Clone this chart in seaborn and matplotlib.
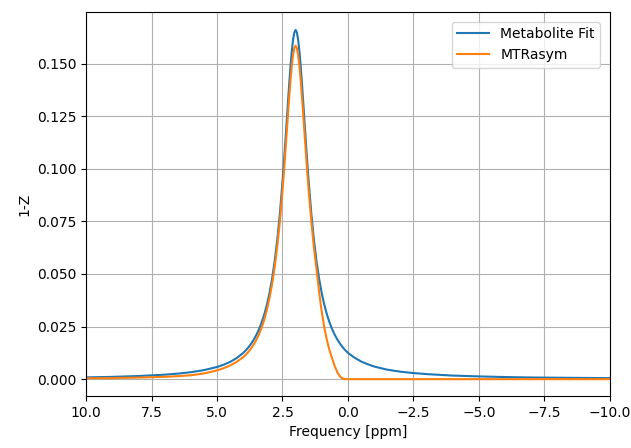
import matplotlib
matplotlib.use("Agg")
import matplotlib.pyplot as plt
import seaborn as sns
import pandas as pd

# Frequency offsets (ppm)
freq = [10, 9, 8, 7, 6.5, 6, 5.5, 5,
        4.75, 4.5, 4.25, 4,
        3.9, 3.8, 3.7, 3.6, 3.5, 3.4, 3.3, 3.2, 3.1, 3.0,
        2.9, 2.8, 2.7, 2.6, 2.5,
        2.45, 2.4, 2.35, 2.3, 2.25, 2.2, 2.15, 2.1, 2.05, 2.0,
        1.95, 1.9, 1.85, 1.8, 1.75, 1.7, 1.65, 1.6, 1.55, 1.5,
        1.4, 1.3, 1.2, 1.1, 1.0,
        0.9, 0.8, 0.7, 0.6, 0.5, 0.4, 0.3, 0.2, 0.15, 0.1,
        0.0,
        -0.25, -0.5, -0.75, -1,
        -1.5, -2, -2.5, -3,
        -4, -5, -6, -7, -8, -9, -10]

metabolite_fit = [0.00084, 0.00109, 0.00148, 0.00213, 0.00262, 0.00330, 0.00429, 0.00578,
                  0.00684, 0.00820, 0.01001, 0.01247,
                  0.01371, 0.01513, 0.01678, 0.01870, 0.02095, 0.02360, 0.02677, 0.03056, 0.03514, 0.04071,
                  0.04752, 0.05589, 0.06619, 0.07875, 0.09382,
                  0.10226, 0.11122, 0.12055, 0.13000, 0.13922, 0.14780, 0.15525, 0.16104, 0.16473, 0.16600,
                  0.16473, 0.16104, 0.15525, 0.14780, 0.13922, 0.13000, 0.12055, 0.11122, 0.10226, 0.09382,
                  0.07875, 0.06619, 0.05589, 0.04752, 0.04071,
                  0.03514, 0.03056, 0.02677, 0.02360, 0.02095, 0.01870, 0.01678, 0.01513, 0.01440, 0.01371,
                  0.01247,
                  0.01020, 0.00840, 0.00710, 0.00600,
                  0.00450, 0.00355, 0.00290, 0.00240,
                  0.00170, 0.00130, 0.00100, 0.00080, 0.00068, 0.00058, 0.00050]

mtr_asym = [0.00040, 0.00052, 0.00074, 0.00111, 0.00141, 0.00185, 0.00270, 0.00416,
            0.00520, 0.00648, 0.00821, 0.01047,
            0.01165, 0.01301, 0.01460, 0.01646, 0.01865, 0.02124, 0.02436, 0.02812, 0.03268, 0.03827,
            0.04491, 0.05310, 0.06301, 0.07505, 0.08950,
            0.09756, 0.10622, 0.11513, 0.12415, 0.13296, 0.14115, 0.14826, 0.15379, 0.15732, 0.15850,
            0.15732, 0.15379, 0.14826, 0.14115, 0.13296, 0.12415, 0.11513, 0.10622, 0.09756, 0.08950,
            0.07505, 0.06250, 0.05200, 0.04120, 0.03180,
            0.02430, 0.01830, 0.01350, 0.00960, 0.00600, 0.00310, 0.00120, 0.00030, 0.00010, 0.0,
            0.0,
            0.0, 0.0, 0.0, 0.0,
            0.0, 0.0, 0.0, 0.0,
            0.0, 0.0, 0.0, 0.0, 0.0, 0.0, 0.0]

series_names = ["Metabolite Fit", "MTRasym"]

df = pd.DataFrame({"freq": freq, "fit": metabolite_fit, "mtr": mtr_asym})

plt.rcParams['font.family'] = ['DejaVu Sans']
fig = plt.figure(figsize=(6.31, 4.48), dpi=100)
ax = fig.add_axes([0.1363, 0.1161, 0.8304, 0.8571])

sns.lineplot(data=df, x="freq", y="fit", ax=ax, color="#1f77b4",
             linewidth=1.5, label=series_names[0])
sns.lineplot(data=df, x="freq", y="mtr", ax=ax, color="#ff7f0e",
             linewidth=1.5, label=series_names[1])

ax.set_xlim(10, -10)
ax.set_ylim(-0.008, 0.1745)
ax.set_xticks([10, 7.5, 5, 2.5, 0, -2.5, -5, -7.5, -10])
ax.set_yticks([0, 0.025, 0.05, 0.075, 0.1, 0.125, 0.15])
ax.set_xlabel("Frequency [ppm]")
ax.set_ylabel("1-Z")
ax.grid(True, color="#b0b0b0", linewidth=0.8)
ax.set_axisbelow(True)
ax.legend(loc="upper right", handlelength=2.3, borderaxespad=0.7)

fig.savefig("out.png", dpi=100)
